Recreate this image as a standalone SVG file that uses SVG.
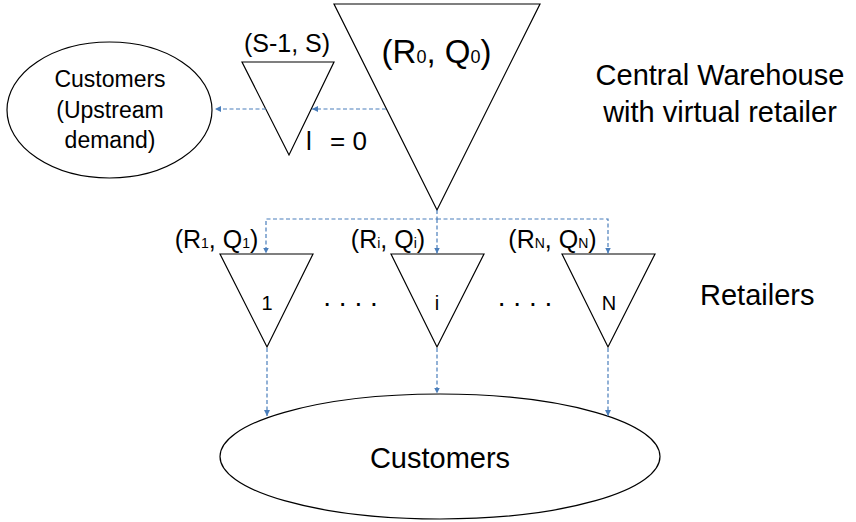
<svg xmlns="http://www.w3.org/2000/svg" width="856" height="522" viewBox="0 0 856 522">
<defs>
<style>
.shape{fill:#fff;stroke:#000;stroke-width:1.2}
.t{font-family:"Liberation Sans",Arial,sans-serif;fill:#000}
.c{stroke:#4a7ebb;stroke-width:1.2;stroke-dasharray:4 2.5;fill:none}
</style>
<marker id="ah" viewBox="0 0 10 10" refX="10" refY="5" markerWidth="6" markerHeight="6" markerUnits="userSpaceOnUse" orient="auto">
<path d="M0,0 L10,5 L0,10 z" fill="#4a7ebb"/>
</marker>
</defs>
<rect width="856" height="522" fill="#fff"/>

<g id="upstream-customers">
<ellipse class="shape" cx="109.5" cy="110" rx="102.5" ry="68"/>
<text class="t" font-size="23" text-anchor="middle" x="110" y="87">Customers</text>
<text class="t" font-size="23" text-anchor="middle" x="110" y="118">(Upstream</text>
<text class="t" font-size="23" text-anchor="middle" x="110" y="148">demand)</text>
</g>

<g id="virtual-retailer">
<polygon class="shape" points="242,62 334,62 289,155"/>
<text class="t" font-size="25" text-anchor="middle" x="287" y="52">(S-1, S)</text>
<text class="t" font-size="26" x="306" y="150">l <tspan x="330">= 0</tspan></text>
</g>

<g id="central-warehouse">
<polygon class="shape" points="334,4 540,4 437,210"/>
<text class="t" font-size="33" text-anchor="middle" x="436.5" y="63">(R<tspan font-size="18">0</tspan>, Q<tspan font-size="18">0</tspan>)</text>
<text class="t" font-size="29" text-anchor="middle" x="720" y="85">Central Warehouse</text>
<text class="t" font-size="29" text-anchor="middle" x="720" y="122">with virtual retailer</text>
</g>

<g id="retailer-1">
<polygon class="shape" points="220,254 313,254 267,347"/>
<text class="t" font-size="25" text-anchor="middle" x="216.5" y="248">(R<tspan font-size="14">1</tspan>, Q<tspan font-size="14">1</tspan>)</text>
<text class="t" font-size="20" text-anchor="middle" x="267" y="310">1</text>
</g>

<g id="retailer-i">
<polygon class="shape" points="391,254 484,254 437,347"/>
<text class="t" font-size="25" text-anchor="middle" x="388" y="248">(R<tspan font-size="14">i</tspan>, Q<tspan font-size="14">i</tspan>)</text>
<text class="t" font-size="20" text-anchor="middle" x="437" y="310">i</text>
</g>

<g id="retailer-N">
<polygon class="shape" points="562,254 655,254 608,347"/>
<text class="t" font-size="25" text-anchor="middle" x="552.5" y="248">(R<tspan font-size="14">N</tspan>, Q<tspan font-size="14">N</tspan>)</text>
<text class="t" font-size="20" text-anchor="middle" x="609" y="310">N</text>
</g>

<g id="dots">
<text class="t" font-size="28" text-anchor="middle" x="350.5" y="306">. . . .</text>
<text class="t" font-size="28" text-anchor="middle" x="525" y="306">. . . .</text>
</g>

<g id="retailers-label">
<text class="t" font-size="29" x="700" y="305">Retailers</text>
</g>

<g id="customers">
<ellipse class="shape" cx="440" cy="456.5" rx="220" ry="62.5"/>
<text class="t" font-size="29" text-anchor="middle" x="440" y="468">Customers</text>
</g>

<g id="connectors">
<line class="c" x1="386" y1="109" x2="312" y2="109" marker-end="url(#ah)"/>
<line class="c" x1="266" y1="109" x2="215" y2="109" marker-end="url(#ah)"/>
<polyline class="c" points="437,210 437,219 266,219 266,253.5" marker-end="url(#ah)"/>
<line class="c" x1="437" y1="219" x2="437" y2="253.5" marker-end="url(#ah)"/>
<polyline class="c" points="437,219 608,219 608,253.5" marker-end="url(#ah)"/>
<line class="c" x1="267" y1="348" x2="267" y2="416" marker-end="url(#ah)"/>
<line class="c" x1="437" y1="348" x2="437" y2="393.5" marker-end="url(#ah)"/>
<line class="c" x1="608" y1="348" x2="608" y2="416" marker-end="url(#ah)"/>
</g>
</svg>
